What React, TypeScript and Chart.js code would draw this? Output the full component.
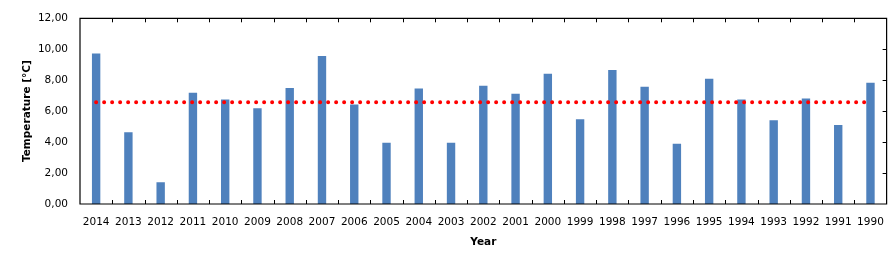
import React, { useEffect, useRef } from "react";
import { Chart, registerables } from "chart.js";

Chart.register(...registerables);

const years = [
  "2014", "2013", "2012", "2011", "2010", "2009", "2008", "2007", "2006", "2005",
  "2004", "2003", "2002", "2001", "2000", "1999", "1998", "1997", "1996", "1995",
  "1994", "1993", "1992", "1991", "1990",
];

const temperatures = [
  9.73, 4.64, 1.40, 7.19, 6.75, 6.18, 7.50, 9.56, 6.43, 3.95,
  7.46, 3.95, 7.64, 7.13, 8.41, 5.48, 8.66, 7.58, 3.89, 8.09,
  6.76, 5.42, 6.82, 5.10, 7.84,
];

const averageTemp = 6.58;
const averageLine = years.map(() => averageTemp);

const yTicks = [0, 2, 4, 6, 8, 10, 12];

const FONT = "'DejaVu Sans', Verdana, sans-serif";

const framePlugin = {
  id: "frame",
  afterDatasetsDraw(chart: any) {
    const { ctx, chartArea } = chart;
    const { left, right, top, bottom } = chartArea;
    const xs = chart.scales.x;
    const ys = chart.scales.y;
    ctx.save();
    ctx.strokeStyle = "#000";
    ctx.lineWidth = 1.2;
    ctx.beginPath();
    ctx.rect(left, top, right - left, bottom - top);
    ctx.stroke();
    ctx.lineWidth = 1;
    ctx.beginPath();
    for (let i = 1; i < years.length; i++) {
      const px = Math.round(xs.getPixelForValue(i - 0.5)) + 0.5;
      ctx.moveTo(px, bottom);
      ctx.lineTo(px, bottom - 4);
      ctx.moveTo(px, top);
      ctx.lineTo(px, top + 4);
    }
    for (const v of yTicks) {
      if (v === yTicks[0] || v === yTicks[yTicks.length - 1]) continue;
      const py = Math.round(ys.getPixelForValue(v)) + 0.5;
      ctx.moveTo(right, py);
      ctx.lineTo(right - 4, py);
    }
    ctx.stroke();
    ctx.restore();
  },
};

export default function App() {
  const canvasRef = useRef<HTMLCanvasElement | null>(null);

  useEffect(() => {
    if (!canvasRef.current) return;
    const chart = new Chart(canvasRef.current, {
      type: "bar",
      data: {
        labels: years,
        datasets: [
          {
            type: "line",
            label: "Average",
            data: averageLine,
            borderColor: "#FF0000",
            borderWidth: 4,
            borderDash: [0, 8],
            borderCapStyle: "round",
            pointRadius: 0,
            fill: false,
            order: 0,
          } as any,
          {
            type: "bar",
            label: "Temperature",
            data: temperatures,
            backgroundColor: "#4F81BD",
            borderWidth: 0,
            barPercentage: 0.26,
            categoryPercentage: 1,
            order: 1,
          },
        ],
      },
      options: {
        animation: false,
        responsive: true,
        maintainAspectRatio: false,
        layout: { padding: { top: 15, right: 8, left: 0, bottom: 0 } },
        plugins: {
          legend: { display: false },
          tooltip: { enabled: false },
        },
        scales: {
          x: {
            offset: true,
            grid: { display: false, drawTicks: false },
            border: { display: false },
            ticks: {
              color: "#000",
              font: { family: FONT, size: 10.5 },
              padding: 12,
              maxRotation: 0,
              autoSkip: false,
            },
            title: {
              display: true,
              text: "Year",
              color: "#000",
              font: { family: FONT, size: 10.5, weight: "bold" },
              padding: { top: 0, bottom: 7 },
            },
            afterFit(scale: any) {
              scale.height = 52;
            },
          },
          y: {
            min: 0,
            max: 12,
            grid: { display: false, drawTicks: false },
            border: { display: false },
            ticks: {
              stepSize: 2,
              color: "#000",
              font: { family: FONT, size: 10.5 },
              padding: 12,
              callback: (v: any) => Number(v).toFixed(2).replace(".", ","),
            },
            title: {
              display: true,
              text: "Temperature [°C]",
              color: "#000",
              font: { family: FONT, size: 10.5, weight: "bold" },
              padding: { top: 21, bottom: 0 },
            },
            afterFit(scale: any) {
              scale.width = 80;
            },
          },
        },
      },
      plugins: [framePlugin],
    });
    return () => chart.destroy();
  }, []);

  return (
    <div style={{ position: "absolute", left: 0, top: 0, width: 896, height: 256, background: "#fff" }}>
      <canvas ref={canvasRef} />
    </div>
  );
}
